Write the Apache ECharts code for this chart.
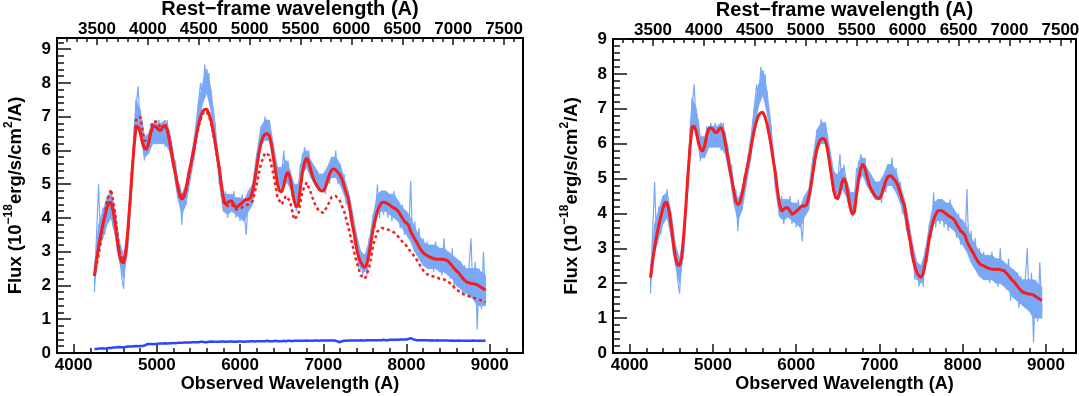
<!DOCTYPE html>
<html>
<head>
<meta charset="utf-8">
<script src="https://cdn.jsdelivr.net/npm/echarts@6/dist/echarts.min.js"></script>
<style>
html, body { margin: 0; padding: 0; background: #fff; }
#chart { width: 1079px; height: 396px; }
</style>
</head>
<body>
<div id="chart"></div>
<script>
// sampling grid of the spectra (observed wavelength, A)
const WAVE_START = 4250;
const FINE_STEP = 25;
const COARSE_STEP = 50;
const ONE_PLUS_Z = 1.223;

const obsTicks = [4000, 5000, 6000, 7000, 8000, 9000];
const restTicks = [3500, 4000, 4500, 5000, 5500, 6000, 6500, 7000, 7500];
const fluxTicks = [0, 1, 2, 3, 4, 5, 6, 7, 8, 9];

// left panel: observed spectrum (light blue), 25 A steps from 4250
const leftSpectrum = [
  1.8, 3.5, 5.0, 3.2, 4.3, 3.5, 4.6, 3.9, 4.8, 3.7,
  4.2, 3.0, 3.2, 2.3, 1.9, 3.1, 3.3, 4.7, 5.1, 6.6,
  7.3, 7.9, 6.6, 6.9, 5.7, 6.4, 5.9, 6.8, 6.2, 6.9,
  6.3, 6.9, 6.2, 6.8, 6.1, 6.9, 6.0, 6.3, 5.4, 5.7,
  4.7, 5.0, 3.8, 4.8, 4.4, 5.4, 5.2, 6.0, 5.8, 6.8,
  7.4, 8.0, 7.5, 8.55, 7.8, 8.3, 7.3, 7.2, 6.4, 6.0,
  5.2, 5.0, 4.2, 4.8, 4.0, 4.7, 4.2, 4.8, 4.0, 4.6,
  3.9, 4.7, 4.1, 3.5, 4.8, 4.3, 4.9, 5.0, 5.9, 5.7,
  6.6, 6.2, 7.0, 6.3, 6.9, 6.3, 6.1, 5.3, 5.5, 4.8,
  5.3, 6.0, 5.0, 5.7, 5.2, 4.6, 4.9, 4.2, 4.6, 5.6,
  5.6, 6.1, 5.6, 6.0, 5.3, 5.6, 5.0, 5.4, 4.8, 5.3,
  5.1, 4.7, 5.5, 5.0, 5.8, 5.2, 6.0, 5.0, 5.6, 4.9,
  5.3, 4.4, 4.8, 3.9, 4.0, 3.2, 3.3, 2.5, 3.0, 2.3,
  2.9, 2.3, 3.4, 3.0, 4.1, 3.7, 5.0, 4.0, 4.7, 4.1,
  4.8, 4.0, 4.7, 3.9, 4.8, 4.0, 4.5, 3.7, 4.4, 3.5,
  4.2, 3.4, 5.1, 3.2, 3.9, 2.9, 3.7, 2.7, 3.4, 2.6,
  3.3, 2.5, 3.2, 2.4, 3.3, 2.5, 3.1, 2.3, 3.4, 2.4,
  3.0, 2.2, 3.1, 1.9, 2.8, 2.0, 2.7, 1.7, 2.6, 1.8,
  2.5, 3.4, 1.6, 2.7, 0.7, 2.5, 1.3, 3.0, 1.6
];

// left panel: lower / upper edge of the noisy spectrum band, 50 A steps
const leftBandLow = [
  2.0, 3.0, 3.4, 3.8, 4.0, 3.5, 2.7, 2.2, 3.1, 4.9,
  6.8, 6.4, 5.8, 5.9, 6.2, 6.2, 6.2, 6.2, 6.0, 5.4,
  4.6, 4.1, 4.4, 5.1, 5.8, 6.8, 7.4, 7.7, 7.2, 6.3,
  5.0, 4.2, 4.1, 4.2, 4.1, 4.0, 3.9, 4.2, 4.4, 5.3,
  6.2, 6.3, 6.3, 5.7, 5.0, 4.9, 5.1, 4.9, 4.5, 4.4,
  5.3, 5.5, 5.2, 5.0, 4.8, 4.8, 5.0, 5.2, 5.2, 5.0,
  4.7, 4.3, 3.7, 3.0, 2.5, 2.4, 2.8, 3.6, 4.1, 4.2,
  4.2, 4.1, 4.0, 3.9, 3.7, 3.5, 3.3, 3.0, 2.8, 2.6,
  2.5, 2.5, 2.5, 2.4, 2.4, 2.3, 2.2, 2.0, 1.9, 1.8,
  1.7, 1.6, 1.4, 1.4, 1.4
];
const leftBandHigh = [
  2.6, 3.8, 4.2, 4.6, 4.8, 4.2, 3.3, 2.9, 3.6, 5.5,
  7.5, 7.2, 6.4, 6.5, 6.8, 6.8, 6.8, 6.9, 6.6, 5.9,
  5.1, 4.7, 5.0, 5.6, 6.4, 7.4, 8.0, 8.4, 7.8, 6.8,
  5.5, 4.7, 4.7, 4.7, 4.6, 4.6, 4.5, 4.8, 5.0, 5.9,
  6.7, 6.9, 6.9, 6.2, 5.5, 5.5, 5.7, 5.4, 5.0, 5.0,
  5.9, 6.0, 5.7, 5.5, 5.3, 5.3, 5.5, 5.8, 5.8, 5.6,
  5.2, 4.8, 4.2, 3.5, 3.0, 2.9, 3.3, 4.1, 4.7, 4.8,
  4.8, 4.7, 4.7, 4.5, 4.3, 4.2, 4.0, 3.7, 3.5, 3.3,
  3.2, 3.2, 3.2, 3.1, 3.1, 3.0, 2.9, 2.8, 2.7, 2.5,
  2.5, 2.5, 2.5, 2.4, 2.3
];

// left panel: fit (solid red), 25 A steps
const leftFit = [
  2.28, 2.75, 3.15, 3.5, 3.8, 4.05, 4.3, 4.47, 4.45, 4.2,
  3.8, 3.3, 2.9, 2.7, 2.68, 2.9, 3.6, 4.4, 5.3, 6.1,
  6.7, 6.7, 6.55, 6.25, 6.07, 6.03, 6.2, 6.5, 6.7, 6.72,
  6.68, 6.6, 6.6, 6.7, 6.74, 6.6, 6.3, 5.95, 5.6, 5.3,
  4.95, 4.65, 4.55, 4.62, 4.85, 5.2, 5.5, 5.8, 6.1, 6.45,
  6.75, 7.0, 7.15, 7.22, 7.22, 7.1, 6.9, 6.6, 6.25, 5.85,
  5.5, 5.0, 4.6, 4.4, 4.45, 4.5, 4.5, 4.4, 4.3, 4.35,
  4.4, 4.45, 4.52, 4.55, 4.55, 4.6, 4.8, 5.1, 5.5, 5.9,
  6.2, 6.4, 6.48, 6.5, 6.45, 6.2, 5.8, 5.4, 5.0, 4.8,
  4.77, 4.95, 5.25, 5.36, 5.2, 4.85, 4.5, 4.32, 4.4, 4.9,
  5.35, 5.65, 5.78, 5.65, 5.42, 5.2, 5.05, 4.95, 4.85, 4.8,
  4.8, 4.9, 5.1, 5.3, 5.42, 5.46, 5.42, 5.35, 5.28, 5.15,
  4.95, 4.75, 4.6, 4.2, 3.8, 3.5, 3.1, 2.85, 2.68, 2.58,
  2.53, 2.65, 2.95, 3.3, 3.7, 3.96, 4.2, 4.35, 4.45, 4.47,
  4.45, 4.42, 4.38, 4.33, 4.29, 4.26, 4.2, 4.1, 4.0, 3.9,
  3.85, 3.78, 3.6, 3.48, 3.37, 3.27, 3.15, 3.05, 2.97, 2.92,
  2.88, 2.85, 2.82, 2.8, 2.78, 2.78, 2.78, 2.78, 2.77, 2.75,
  2.72, 2.65, 2.58, 2.5, 2.43, 2.38, 2.3, 2.22, 2.15, 2.1,
  2.08, 2.06, 2.05, 2.04, 2.02, 1.98, 1.94, 1.9, 1.87
];

// left panel: second fit (dotted red), 50 A steps
const leftFitAlt = [
  2.3, 2.9, 3.7, 4.5, 4.85, 4.1, 3.0, 2.65, 3.5, 5.3,
  6.9, 7.0, 6.3, 6.2, 6.85, 6.85, 6.65, 6.8, 6.4, 5.6,
  4.9, 4.6, 4.8, 5.4, 6.1, 6.7, 7.1, 7.15, 6.85, 6.2,
  5.4, 4.45, 4.35, 4.4, 4.25, 4.28, 4.35, 4.4, 4.5, 5.0,
  5.6, 5.93, 5.85, 5.3, 4.6, 4.4, 4.65, 4.5, 3.95, 4.1,
  4.8, 5.05, 4.75, 4.4, 4.2, 4.15, 4.35, 4.62, 4.65, 4.5,
  4.2, 3.75, 3.2, 2.7, 2.3, 2.2, 2.5, 3.2, 3.6, 3.7,
  3.68, 3.63, 3.57, 3.45, 3.3, 3.17, 3.0, 2.85, 2.65, 2.45,
  2.33, 2.28, 2.25, 2.2, 2.18, 2.12, 2.0, 1.88, 1.8, 1.73,
  1.68, 1.64, 1.6, 1.55, 1.5
];

// left panel: host component (blue, near zero), 25 A steps
const hostSpectrum = [
  0.12, 0.12, 0.13, 0.13, 0.14, 0.13, 0.14, 0.15, 0.15, 0.16,
  0.16, 0.17, 0.18, 0.17, 0.17, 0.18, 0.19, 0.19, 0.19, 0.2,
  0.21, 0.2, 0.21, 0.21, 0.22, 0.25, 0.27, 0.27, 0.26, 0.27,
  0.27, 0.28, 0.28, 0.28, 0.29, 0.28, 0.29, 0.29, 0.3, 0.29,
  0.3, 0.3, 0.3, 0.31, 0.31, 0.31, 0.31, 0.32, 0.32, 0.32,
  0.32, 0.33, 0.33, 0.32, 0.32, 0.33, 0.34, 0.33, 0.33, 0.33,
  0.33, 0.34, 0.34, 0.33, 0.33, 0.34, 0.34, 0.33, 0.33, 0.34,
  0.34, 0.34, 0.33, 0.34, 0.34, 0.35, 0.35, 0.34, 0.35, 0.35,
  0.35, 0.35, 0.35, 0.36, 0.35, 0.35, 0.35, 0.36, 0.35, 0.35,
  0.35, 0.36, 0.35, 0.36, 0.36, 0.35, 0.36, 0.36, 0.36, 0.36,
  0.36, 0.36, 0.37, 0.36, 0.36, 0.36, 0.37, 0.37, 0.36, 0.37,
  0.37, 0.37, 0.37, 0.37, 0.37, 0.37, 0.36, 0.34, 0.32, 0.35,
  0.36, 0.36, 0.37, 0.37, 0.37, 0.37, 0.37, 0.37, 0.38, 0.37,
  0.37, 0.38, 0.38, 0.38, 0.38, 0.38, 0.38, 0.38, 0.38, 0.39,
  0.38, 0.38, 0.39, 0.39, 0.39, 0.39, 0.39, 0.4, 0.4, 0.4,
  0.4, 0.42, 0.44, 0.41, 0.39, 0.38, 0.38, 0.38, 0.38, 0.38,
  0.38, 0.37, 0.38, 0.37, 0.37, 0.38, 0.37, 0.37, 0.37, 0.37,
  0.37, 0.36, 0.37, 0.36, 0.36, 0.37, 0.36, 0.36, 0.36, 0.36,
  0.36, 0.36, 0.37, 0.36, 0.36, 0.36, 0.36, 0.36, 0.36
];

// right panel: host-subtracted spectrum, 25 A steps
const rightSpectrum = [
  1.7, 3.4, 4.9, 3.1, 4.2, 3.4, 4.5, 3.8, 4.7, 3.6,
  4.0, 2.8, 3.0, 2.1, 1.7, 2.9, 3.1, 4.5, 4.9, 6.4,
  7.1, 7.7, 6.4, 6.7, 5.5, 6.1, 5.6, 6.5, 5.9, 6.6,
  6.0, 6.6, 5.9, 6.5, 5.8, 6.6, 5.7, 6.0, 5.1, 5.4,
  4.4, 4.7, 3.5, 4.5, 4.1, 5.1, 4.9, 5.7, 5.5, 6.5,
  7.1, 7.7, 7.2, 8.2, 7.5, 8.0, 7.0, 6.9, 6.1, 5.7,
  4.9, 4.7, 3.9, 4.5, 3.7, 4.4, 3.9, 4.5, 3.7, 4.3,
  3.6, 4.4, 3.8, 3.2, 4.5, 4.0, 4.6, 4.7, 5.6, 5.4,
  6.3, 5.9, 6.7, 6.0, 6.6, 6.0, 5.8, 5.0, 5.2, 4.5,
  4.9, 5.7, 4.7, 5.4, 4.9, 4.3, 4.6, 3.9, 4.3, 5.3,
  5.2, 5.7, 5.2, 5.6, 4.9, 5.2, 4.6, 5.0, 4.4, 4.9,
  4.7, 4.3, 5.1, 4.6, 5.4, 4.8, 5.6, 4.7, 5.3, 4.5,
  4.9, 4.0, 4.4, 3.5, 3.6, 2.8, 2.9, 2.1, 2.6, 1.9,
  2.5, 1.9, 3.0, 2.6, 3.7, 3.3, 4.6, 3.6, 4.3, 3.7,
  4.4, 3.6, 4.3, 3.5, 4.4, 3.6, 4.1, 3.3, 4.0, 3.1,
  3.8, 3.0, 4.7, 2.8, 3.5, 2.5, 3.3, 2.3, 3.0, 2.2,
  2.9, 2.1, 2.8, 2.0, 2.9, 2.1, 2.7, 1.9, 3.0, 2.0,
  2.6, 1.8, 2.7, 1.5, 2.4, 1.6, 2.3, 1.3, 2.2, 1.4,
  2.1, 3.0, 1.2, 2.3, 0.3, 2.1, 0.9, 2.6, 1.2
];

// right panel: lower / upper edge of the spectrum band, 50 A steps
const rightBandLow = [
  1.9, 2.9, 3.3, 3.7, 3.9, 3.3, 2.5, 2.0, 2.9, 4.7,
  6.6, 6.2, 5.6, 5.6, 5.9, 5.9, 5.9, 5.9, 5.7, 5.1,
  4.3, 3.8, 4.1, 4.8, 5.5, 6.5, 7.1, 7.4, 6.9, 6.0,
  4.7, 3.9, 3.8, 3.9, 3.8, 3.7, 3.6, 3.9, 4.1, 5.0,
  5.9, 6.0, 6.0, 5.4, 4.7, 4.5, 4.7, 4.5, 4.1, 4.0,
  4.9, 5.1, 4.8, 4.6, 4.4, 4.4, 4.6, 4.8, 4.8, 4.6,
  4.3, 3.9, 3.3, 2.6, 2.1, 2.0, 2.4, 3.2, 3.7, 3.8,
  3.8, 3.7, 3.6, 3.5, 3.3, 3.1, 2.9, 2.6, 2.4, 2.2,
  2.1, 2.1, 2.1, 2.0, 2.0, 1.9, 1.8, 1.6, 1.5, 1.4,
  1.3, 1.2, 1.0, 1.0, 1.0
];
const rightBandHigh = [
  2.5, 3.7, 4.1, 4.5, 4.6, 4.0, 3.1, 2.7, 3.4, 5.3,
  7.3, 7.0, 6.2, 6.2, 6.5, 6.5, 6.5, 6.6, 6.3, 5.6,
  4.8, 4.4, 4.7, 5.3, 6.1, 7.1, 7.7, 8.1, 7.5, 6.5,
  5.2, 4.4, 4.4, 4.4, 4.3, 4.3, 4.2, 4.5, 4.7, 5.6,
  6.4, 6.6, 6.6, 5.9, 5.2, 5.1, 5.3, 5.0, 4.6, 4.6,
  5.5, 5.6, 5.3, 5.1, 4.9, 4.9, 5.1, 5.4, 5.4, 5.2,
  4.8, 4.4, 3.8, 3.1, 2.6, 2.5, 2.9, 3.7, 4.3, 4.4,
  4.4, 4.3, 4.3, 4.1, 3.9, 3.8, 3.6, 3.3, 3.1, 2.9,
  2.8, 2.8, 2.8, 2.7, 2.7, 2.6, 2.5, 2.4, 2.3, 2.1,
  2.1, 2.1, 2.1, 2.0, 1.9
];

// right panel: fit (solid red), 25 A steps
const rightFit = [
  2.16, 2.63, 3.02, 3.37, 3.66, 3.91, 4.16, 4.32, 4.3, 4.05,
  3.64, 3.13, 2.73, 2.53, 2.51, 2.72, 3.41, 4.21, 5.11, 5.9,
  6.49, 6.5, 6.35, 6.04, 5.85, 5.78, 5.93, 6.23, 6.43, 6.45,
  6.41, 6.32, 6.32, 6.42, 6.46, 6.31, 6.01, 5.66, 5.31, 5.0,
  4.65, 4.35, 4.25, 4.31, 4.54, 4.89, 5.19, 5.48, 5.78, 6.13,
  6.43, 6.67, 6.82, 6.89, 6.9, 6.77, 6.56, 6.26, 5.92, 5.52,
  5.17, 4.66, 4.26, 4.07, 4.12, 4.16, 4.16, 4.07, 3.97, 4.01,
  4.06, 4.11, 4.18, 4.21, 4.21, 4.25, 4.45, 4.75, 5.15, 5.55,
  5.85, 6.05, 6.13, 6.15, 6.1, 5.85, 5.45, 5.05, 4.65, 4.45,
  4.42, 4.6, 4.9, 5.01, 4.85, 4.5, 4.15, 3.97, 4.05, 4.55,
  4.99, 5.29, 5.42, 5.29, 5.06, 4.84, 4.69, 4.59, 4.49, 4.44,
  4.43, 4.53, 4.73, 4.93, 5.05, 5.09, 5.05, 4.98, 4.91, 4.78,
  4.58, 4.38, 4.23, 3.83, 3.43, 3.13, 2.73, 2.48, 2.31, 2.21,
  2.16, 2.28, 2.57, 2.92, 3.32, 3.58, 3.82, 3.97, 4.07, 4.09,
  4.07, 4.04, 3.99, 3.94, 3.9, 3.87, 3.81, 3.7, 3.6, 3.5,
  3.45, 3.38, 3.2, 3.08, 2.97, 2.87, 2.75, 2.65, 2.57, 2.52,
  2.5, 2.47, 2.44, 2.42, 2.4, 2.4, 2.4, 2.4, 2.39, 2.37,
  2.36, 2.29, 2.22, 2.14, 2.07, 2.02, 1.94, 1.86, 1.79, 1.74,
  1.72, 1.7, 1.69, 1.68, 1.66, 1.62, 1.58, 1.54, 1.51
];

function toPairs(values, step) {
  return values.map((v, i) => [WAVE_START + i * step, v]);
}

// tick positions between the labelled ones
function minorTicks(from, to, step, majors) {
  const out = [];
  for (let v = from; v <= to + 1e-6; v += step) {
    const r = Math.round(v * 100) / 100;
    if (!majors.includes(r)) out.push(r);
  }
  return out;
}

const FONT = 'Liberation Sans, Arial, Helvetica, sans-serif';
const labelStyle = { color: '#000', fontSize: 17, fontWeight: 'bold', fontFamily: FONT };
const topTitleStyle = { color: '#000', fontSize: 20, fontWeight: 'bold', fontFamily: FONT };
const bottomTitleStyle = { color: '#000', fontSize: 18, fontWeight: 'bold', fontFamily: FONT };
const tickLine = { color: '#111', width: 1.5 };
const frameLine = { show: true, lineStyle: { color: '#000', width: 2 } };
const plain = v => String(v);

const yName = '{t|Flux (10}{s|\u221218}{t|erg/s/cm}{s|2}{t|/A)}';
const yNameStyle = {
  rich: {
    t: { color: '#000', fontSize: 18.5, fontWeight: 'bold', fontFamily: FONT, lineHeight: 22, verticalAlign: 'bottom' },
    s: { color: '#000', fontSize: 12, fontWeight: 'bold', fontFamily: FONT, lineHeight: 12, verticalAlign: 'top' }
  }
};

const grids = [
  { left: 57, top: 38, width: 466, height: 315 },
  { left: 613, top: 39, width: 463, height: 314 }
].map(g => Object.assign({
  show: true, borderColor: '#000', borderWidth: 2, backgroundColor: 'transparent',
  containLabel: false, outerBoundsMode: 'none'
}, g));

const panelRanges = [
  { obsMax: 9400, fluxMax: 9.33 },
  { obsMax: 9360, fluxMax: 9 }
];

const xAxes = [];
const yAxes = [];
panelRanges.forEach((p, g) => {
  const restMin = 3800 / ONE_PLUS_Z;
  const restMax = p.obsMax / ONE_PLUS_Z;
  xAxes.push(
    {
      gridIndex: g, type: 'value', position: 'bottom', min: 3800, max: p.obsMax,
      name: 'Observed Wavelength (A)', nameLocation: 'middle', nameGap: 22, nameMoveOverlap: false,
      nameTextStyle: bottomTitleStyle,
      axisLine: frameLine, splitLine: { show: false },
      axisTick: { show: true, inside: true, length: 9, customValues: obsTicks, lineStyle: tickLine },
      axisLabel: Object.assign({ show: true, customValues: obsTicks, margin: 4, formatter: plain }, labelStyle)
    },
    {
      gridIndex: g, type: 'value', position: 'bottom', min: 3800, max: p.obsMax,
      axisLine: frameLine, splitLine: { show: false }, axisLabel: { show: false },
      axisTick: { show: true, inside: true, length: 5, customValues: minorTicks(3800, p.obsMax, 200, obsTicks), lineStyle: tickLine }
    },
    {
      gridIndex: g, type: 'value', position: 'top', min: restMin, max: restMax,
      name: 'Rest\u2212frame wavelength (A)', nameLocation: 'middle', nameGap: 19, nameMoveOverlap: false,
      nameTextStyle: topTitleStyle,
      axisLine: frameLine, splitLine: { show: false },
      axisTick: { show: true, inside: true, length: 7, customValues: restTicks, lineStyle: tickLine },
      axisLabel: Object.assign({ show: true, customValues: restTicks, margin: 0, formatter: plain }, labelStyle)
    },
    {
      gridIndex: g, type: 'value', position: 'top', min: restMin, max: restMax,
      axisLine: frameLine, splitLine: { show: false }, axisLabel: { show: false },
      axisTick: { show: true, inside: true, length: 4, customValues: minorTicks(3200, 7600, 100, restTicks), lineStyle: tickLine }
    }
  );
  yAxes.push(
    {
      gridIndex: g, type: 'value', position: 'left', min: 0, max: p.fluxMax,
      name: yName, nameLocation: 'middle', nameGap: 32, nameMoveOverlap: false, nameTextStyle: yNameStyle,
      axisLine: frameLine, splitLine: { show: false },
      axisTick: { show: true, inside: true, length: 14, customValues: fluxTicks, lineStyle: tickLine },
      axisLabel: Object.assign({ show: true, customValues: fluxTicks, margin: 6, formatter: plain }, labelStyle)
    },
    {
      gridIndex: g, type: 'value', position: 'left', min: 0, max: p.fluxMax,
      axisLine: frameLine, splitLine: { show: false }, axisLabel: { show: false },
      axisTick: { show: true, inside: true, length: 7, customValues: minorTicks(0, 9.2, 0.2, fluxTicks), lineStyle: tickLine }
    }
  );
});

function lineSeries(g, data, color, width, type, z) {
  return {
    type: 'line', xAxisIndex: g * 4, yAxisIndex: g * 2, data: data,
    showSymbol: false, symbol: 'none', silent: true, z: z,
    lineStyle: { color: color, width: width, type: type || 'solid', cap: 'butt' }
  };
}

// noisy-spectrum band between its lower and upper edge, one quad per step
function bandSeries(g, low, high, color) {
  const rows = low.map((l, i) => [WAVE_START + i * COARSE_STEP, l, high[i]]);
  return {
    type: 'custom', xAxisIndex: g * 4, yAxisIndex: g * 2, data: rows,
    encode: { x: 0, y: [1, 2] }, silent: true, z: 1, clip: true,
    renderItem: function (params, api) {
      const i = params.dataIndex;
      if (i >= rows.length - 1) return null;
      const a = rows[i], b = rows[i + 1];
      return {
        type: 'polygon',
        shape: { points: [api.coord([a[0], a[1]]), api.coord([a[0], a[2]]), api.coord([b[0], b[2]]), api.coord([b[0], b[1]])] },
        style: { fill: color, stroke: color, lineWidth: 0.8 }
      };
    }
  };
}

const SPEC_BLUE = '#7aa8f5';
const FIT_RED = '#f51d1d';
const HOST_BLUE = '#2d45ff';

const chart = echarts.init(document.getElementById('chart'));
chart.setOption({
  animation: false,
  grid: grids,
  xAxis: xAxes,
  yAxis: yAxes,
  series: [
    bandSeries(0, leftBandLow, leftBandHigh, SPEC_BLUE),
    lineSeries(0, toPairs(leftSpectrum, FINE_STEP), SPEC_BLUE, 1.2, 'solid', 2),
    lineSeries(0, toPairs(hostSpectrum, FINE_STEP), HOST_BLUE, 2.5, 'solid', 3),
    lineSeries(0, toPairs(leftFitAlt, COARSE_STEP), FIT_RED, 2.5, [3, 3], 4),
    lineSeries(0, toPairs(leftFit, FINE_STEP), FIT_RED, 3, 'solid', 5),
    bandSeries(1, rightBandLow, rightBandHigh, SPEC_BLUE),
    lineSeries(1, toPairs(rightSpectrum, FINE_STEP), SPEC_BLUE, 1.2, 'solid', 2),
    lineSeries(1, toPairs(rightFit, FINE_STEP), FIT_RED, 3, 'solid', 5)
  ]
});
</script>
</body>
</html>
